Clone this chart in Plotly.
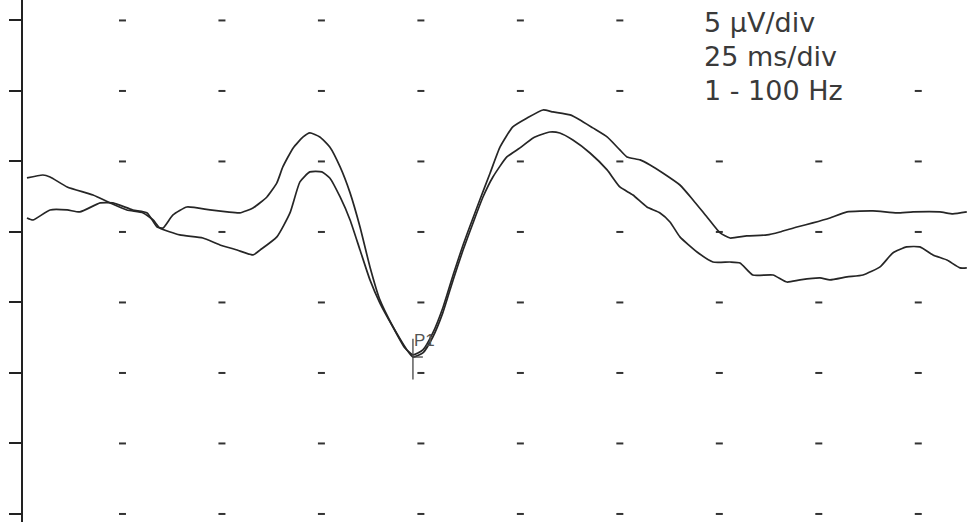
import numpy as np
import plotly.graph_objects as go

# ---- data (time in ms, amplitude in µV) ----
time_a = [1.0, 5.0, 6.8, 11.1, 17.6, 21.9, 26.1, 30.2, 32.7, 34.4, 39.4, 45.2, 49.5, 53.8, 57.8, 59.6,
          63.8, 67.1, 69.6, 72.1, 75.1, 77.1, 79.7, 82.2, 84.7, 87.2, 89.7, 93.0, 96.5, 98.0, 100.5,
          103.0, 105.5, 108.1, 110.6, 113.1, 115.6, 118.1, 121.6, 124.9, 128.2, 132.4, 134.9, 138.2,
          142.5, 146.8, 150.0, 153.3, 156.8, 160.1, 162.6, 165.1, 169.4, 173.4, 177.7, 180.2, 183.4,
          188.5, 192.0, 195.3, 200.3, 202.8, 207.1, 211.1, 215.4, 218.6, 222.1, 225.4, 228.7, 232.2,
          235.5, 237.2]
amp_a = [3.83, 4.04, 3.90, 3.19, 2.62, 2.06, 1.56, 1.35, 0.85, 0.28, -0.21, -0.43, -0.92, -1.28, -1.63,
         -1.28, -0.35, 1.35, 3.55, 4.26, 4.26, 3.83, 2.48, 0.85, -1.28, -3.40, -5.04, -6.74, -8.37, -8.87,
         -8.58, -7.45, -5.74, -3.40, -1.28, 0.64, 2.48, 3.90, 5.32, 5.96, 6.67, 7.09, 7.02, 6.52, 5.60,
         4.40, 3.19, 2.62, 1.77, 1.35, 0.71, -0.35, -1.42, -2.13, -2.13, -2.20, -3.05, -3.05, -3.55,
         -3.40, -3.26, -3.40, -3.19, -3.05, -2.48, -1.49, -1.06, -1.06, -1.63, -1.99, -2.55, -2.55]

time_b = [1.0, 2.5, 6.8, 11.1, 14.3, 19.4, 22.6, 27.6, 31.2, 33.7, 35.2, 37.7, 41.2, 47.0, 51.3, 54.5,
          57.8, 61.3, 63.8, 65.3, 67.9, 70.4, 72.1, 74.6, 77.1, 79.7, 82.2, 84.7, 87.2, 89.7, 93.0,
          96.0, 98.0, 100.5, 103.0, 105.5, 108.1, 110.6, 113.1, 114.8, 117.4, 119.9, 123.1, 126.7,
          130.7, 133.2, 137.5, 140.0, 143.2, 146.8, 150.0, 151.8, 155.1, 157.6, 160.8, 165.1, 168.4,
          171.9, 175.2, 177.7, 181.9, 187.0, 190.2, 194.5, 198.5, 202.8, 207.1, 213.6, 219.6, 223.7,
          230.4, 233.7, 237.2]
amp_b = [0.99, 0.85, 1.56, 1.56, 1.42, 2.06, 2.06, 1.56, 1.35, 0.35, 0.28, 1.21, 1.77, 1.56, 1.42, 1.35,
         1.70, 2.48, 3.48, 4.61, 5.96, 6.74, 7.02, 6.74, 6.03, 4.61, 2.77, 0.35, -2.48, -4.82, -6.74,
         -8.23, -8.72, -8.37, -7.16, -5.39, -3.05, -0.92, 0.99, 2.27, 4.18, 6.03, 7.45, 8.08, 8.65, 8.51,
         8.30, 7.94, 7.38, 6.74, 5.82, 5.32, 5.11, 4.75, 4.18, 3.33, 2.27, 1.06, -0.07, -0.43, -0.28,
         -0.21, 0.00, 0.35, 0.64, 0.99, 1.42, 1.49, 1.35, 1.42, 1.42, 1.28, 1.42]

uv_per_div = 5
ms_per_div = 25
x_range = [0, 237.5]
y_range = [-20.57, 16.45]
grid_x = [25, 50, 75, 100, 125, 150, 175, 200, 225]
grid_y = [15, 10, 5, 0, -5, -10, -15, -20]
info_lines = ["5 µV/div", "25 ms/div", "1 - 100 Hz"]
peak_label = "P1"

INK = "#262626"
PLOT_W, PLOT_H, LEFT = 945, 522, 23

fig = go.Figure()

# dotted grid
gx, gy = np.meshgrid(grid_x, grid_y)
fig.add_trace(go.Scatter(
    x=gx.ravel(), y=gy.ravel(), mode="markers", hoverinfo="skip", showlegend=False,
    marker=dict(symbol="line-ew", size=5, line=dict(width=2, color="#333333")),
))

for t, a in [(time_a, amp_a), (time_b, amp_b)]:
    fig.add_trace(go.Scatter(
        x=t, y=a, mode="lines", showlegend=False,
        line=dict(color=INK, width=1.7, shape="spline", smoothing=0.5),
    ))

# P1 marker at the trough of trace A
i_p1 = int(np.argmin(amp_a))
p1_t, p1_v = time_a[i_p1], amp_a[i_p1]
fig.add_shape(type="line", xref="x", yref="y", x0=p1_t, x1=p1_t,
              y0=p1_v + 1.3, y1=p1_v - 1.6, line=dict(color="#444444", width=1.3))
fig.add_shape(type="line", xref="x", yref="y", x0=p1_t, x1=p1_t + 2.5,
              y0=p1_v, y1=p1_v, line=dict(color="#444444", width=1.3))
fig.add_annotation(x=p1_t, y=p1_v + 1.15, xref="x", yref="y", text=peak_label,
                   showarrow=False, xanchor="left", yanchor="middle", xshift=-1,
                   font=dict(family="Liberation Sans", size=17, color="#555555"))

# white label area in the top-right corner (hides the grid dots there)
fig.add_shape(type="rect", xref="paper", yref="paper", layer="above",
              x0=(698 - LEFT) / PLOT_W, x1=1.0, y0=1 - 40 / PLOT_H, y1=1.0,
              fillcolor="white", line=dict(width=0))

# info text top-right
for k, line in enumerate(info_lines):
    fig.add_annotation(x=(703 - LEFT) / PLOT_W, y=1 - (22.5 + 34 * k) / PLOT_H,
                       xref="paper", yref="paper",
                       text=line, showarrow=False, xanchor="left", yanchor="middle",
                       bgcolor="white", borderpad=0,
                       font=dict(family="DejaVu Sans", size=27, color="#3a3a3a"))

fig.update_layout(
    width=968, height=522,
    margin=dict(l=LEFT, r=0, t=0, b=0),
    paper_bgcolor="white", plot_bgcolor="white",
    xaxis=dict(range=x_range, showgrid=False, zeroline=False, showticklabels=False,
               showline=False, ticks=""),
    yaxis=dict(range=y_range, showgrid=False, zeroline=False, showticklabels=False,
               showline=True, linecolor="#222222", linewidth=2,
               ticks="outside", ticklen=12, tickwidth=2, tickcolor="#222222",
               tickvals=grid_y),
)

fig.write_html("out.html")
